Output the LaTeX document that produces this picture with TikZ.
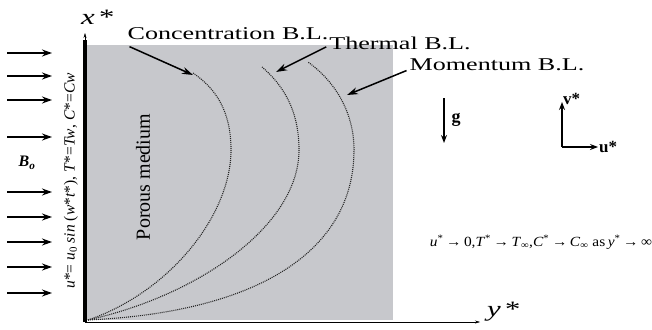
\documentclass[tikz,border=0pt]{standalone}
\usepackage{fontspec}
\setmainfont{Liberation Serif}
\usetikzlibrary{arrows.meta}
\definecolor{porous}{RGB}{199,200,204}

\begin{document}
\begin{tikzpicture}[x=1pt,y=-1pt,
  bllabel/.style={font=\fontsize{18}{20}\selectfont, xscale=1.45},
  axislabel/.style={font=\fontsize{22}{24}\selectfont\itshape, xscale=1.4},
  flow/.style={-{Stealth[length=10pt,width=7pt]}, line width=1.5pt},
  pointer/.style={-{Stealth[length=11pt,width=7pt]}, line width=1.5pt},
  layer/.style={dash pattern=on 1pt off 1pt, line width=1.1pt, black!85}]
  \useasboundingbox (0,0) rectangle (652,329);

     % -------------------------
     % Porous medium and plate
     % -------------------------
      \fill[porous] (87,45) rectangle (393,320);

      % Coordinates
      \coordinate (O) at (85,322);
      \coordinate (Pt) at (85,40);
      \coordinate (Xtip) at (85,33);
      \coordinate (Ytip) at (480,322);

      % Axes
      \draw[-{Stealth[length=5pt,width=3pt]}, thin] (Pt) -- (Xtip);
      \draw[-{Stealth[length=5pt,width=3pt]}, thin] (O) -- (Ytip);
      \draw[line width=4pt] (O) -- (Pt);
      \node[axislabel] (xlab) at (97,17) {x\hspace{2pt}*};
      \node[axislabel] (ylab) at (503,312) {y\hspace{2pt}*};

      % Magnetic field arrows
      \foreach \y in {53,76,100,137,192,217,242,267,293}
        \draw[flow] (7,\y) -- (52,\y);
      \node[font=\fontsize{16}{18}\selectfont\bfseries\itshape] (Bo) at (27,163) {B\textsubscript{o}};

      % Boundary conditions
      \node[rotate=90, font=\fontsize{15.5}{17}\selectfont] (wall) at (71,181)
        {\textit{u}*= \textit{u}\textsubscript{0} \textit{sin} (\textit{w}*\textit{t}*), \textit{T}*=\textit{Tw}, \textit{C}*=\textit{Cw}};
      \node[rotate=90, font=\fontsize{20}{22}\selectfont] (medium) at (143,177) {Porous medium};

      % Boundary layers (dotted)
      \draw[layer] (88,320) .. controls (170,292) and (231,215) .. (231,150)
                            .. controls (231,110) and (215,88) .. (193,73);
      \draw[layer] (88,320) .. controls (200,295) and (299,225) .. (299,150)
                            .. controls (299,110) and (283,85) .. (262,67);
      \draw[layer] (88,320) .. controls (260,312) and (354,250) .. (354,150)
                            .. controls (354,110) and (333,80) .. (308,62);

      % Labels of the layers
      \coordinate (Ctip) at (193,75);
      \coordinate (Ttip) at (276,72);
      \coordinate (Mtip) at (347,95);
      \node[bllabel] (conc) at (228,34) {Concentration B.L.};
      \node[bllabel] (therm) at (400,43) {Thermal B.L.};
      \node[bllabel] (mom) at (497,65) {Momentum B.L.};
      \draw[pointer] ([shift={(7,3)}]conc.south west) -- (Ctip);
      \draw[pointer] ([shift={(2,-6)}]therm.south west) -- (Ttip);
      \draw[pointer] ([shift={(2,-4)}]mom.south west) -- (Mtip);

      % Gravity
      \coordinate (gT) at (444,98);
      \coordinate (gB) at (444,143);
      \draw[-{Stealth[length=8pt,width=6pt]}, line width=1.2pt] (gT) -- (gB);
      \node[font=\fontsize{18}{20}\selectfont\bfseries] (g) at (456,120) {g};

      % Velocity directions
      \coordinate (A) at (562,147);
      \coordinate (Av) at (562,102);
      \coordinate (Au) at (598,147);
      \draw[-{Stealth[length=8pt,width=6pt]}, line width=1.2pt] (A) -- (Av);
      \draw[-{Stealth[length=8pt,width=6pt]}, line width=1.2pt] (A) -- (Au);
      \node[font=\fontsize{17}{19}\selectfont\bfseries, right, inner sep=1pt] (vlab) at ([yshift=3pt]Av) {v*};
      \node[font=\fontsize{17}{19}\selectfont\bfseries, right, inner sep=1pt] (ulab) at (Au) {u*};

      % Far field
      \node[font=\fontsize{14}{16}\selectfont, xscale=1.1] (far) at (541,242)
        {\textit{u}\textsuperscript{*}\,→\,0,\textit{T}\textsuperscript{*}\,→\,\textit{T}\textsubscript{∞},\textit{C}\textsuperscript{*}\,→\,\textit{C}\textsubscript{∞} as\,\textit{y}\textsuperscript{*}\,→\,∞};
\end{tikzpicture}
\end{document}
